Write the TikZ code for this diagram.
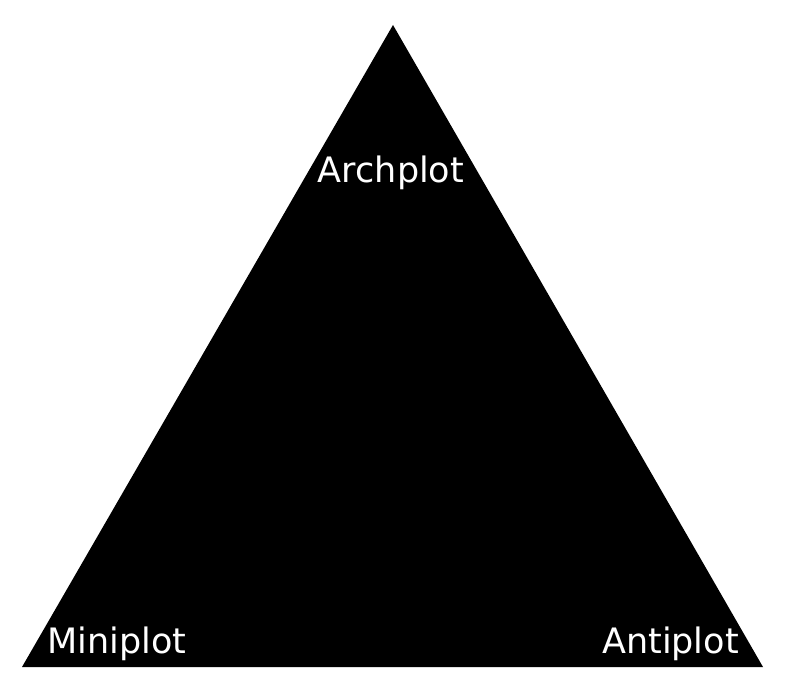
\documentclass[tikz,border=0pt]{standalone}
\usepackage{fontspec}
\setmainfont{DejaVu Sans}
\begin{document}
\begin{tikzpicture}[x=1pt,y=1pt,
  lbl/.style={text=white,inner sep=0pt,font=\fontsize{35}{42}\selectfont}]
\useasboundingbox (0,0) rectangle (786,680);
\coordinate (top) at (393,655);
\coordinate (bl) at (22,13);
\coordinate (br) at (763,13);
\fill[black] (top) -- (bl) -- (br) -- cycle;
\node[lbl,anchor=base] (arch) at (391,497) {Archplot};
\node[lbl,anchor=base west] (mini) at (47,27) {Miniplot};
\node[lbl,anchor=base east] (anti) at (739,27) {Antiplot};
\end{tikzpicture}
\end{document}
